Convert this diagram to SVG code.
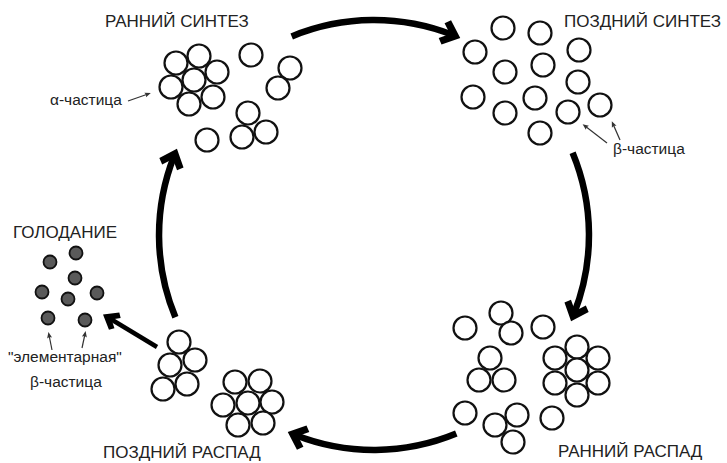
<svg xmlns="http://www.w3.org/2000/svg" width="727" height="463" viewBox="0 0 727 463">
  <style>
    .p { fill: #fff; stroke: #111; stroke-width: 2.2; }
    .d { fill: #5a5a5a; stroke: #111; stroke-width: 1.8; }
    .h { font-family: "Liberation Sans", Arial, sans-serif; font-size: 17px; fill: #222; }
    .s { font-family: "Liberation Sans", Arial, sans-serif; font-size: 15.5px; fill: #222; }
    .cyc { fill: none; stroke: #000; stroke-width: 6.5; }
    .thick { fill: none; stroke: #000; stroke-width: 4.5; }
    .thin { fill: none; stroke: #333; stroke-width: 1.2; }
  </style>
  <defs>
    <!-- thick chevron head for the cycle arrows -->
    <marker id="head" viewBox="-15 -15 30 30" markerWidth="30" markerHeight="30" refX="0" refY="0" orient="auto" markerUnits="userSpaceOnUse">
      <path d="M8,0 L-7,-13 L-12,-8 L-3,0 L-12,8 L-7,13 Z" fill="#000"/>
    </marker>
    <marker id="head-m" viewBox="-15 -15 30 30" markerWidth="30" markerHeight="30" refX="0" refY="0" orient="auto" markerUnits="userSpaceOnUse">
      <path d="M7,0 L-6,-10 L-10,-6 L-3,0 L-10,6 L-6,10 Z" fill="#000"/>
    </marker>
    <marker id="head-s" viewBox="-6 -6 12 12" markerWidth="12" markerHeight="12" refX="0" refY="0" orient="auto" markerUnits="userSpaceOnUse">
      <path d="M3,0 L-3,-2.5 L-2,0 L-3,2.5 Z" fill="#333"/>
    </marker>
  </defs>

  <rect width="727" height="463" fill="#fff"/>

  <!-- cycle arrows and pointers -->
  <g id="connectors">
    <path class="cyc" d="M291.7,36.4 A215,215 0 0 1 452.8,35.0" marker-end="url(#head)"/>
    <path class="cyc" d="M572.6,152.7 A215,215 0 0 1 574.0,313.8" marker-end="url(#head)"/>
    <path class="cyc" d="M456.3,433.6 A215,215 0 0 1 295.2,435.0" marker-end="url(#head)"/>
    <path class="cyc" d="M175.4,317.3 A215,215 0 0 1 174.0,156.2" marker-end="url(#head)"/>
    <path class="thick" d="M157,347 L109,318" marker-end="url(#head-m)"/>
    <path class="thin" d="M128,101 L148,94" marker-end="url(#head-s)"/>
    <path class="thin" d="M607,143 L585,126" marker-end="url(#head-s)"/>
    <path class="thin" d="M620,140 L613,124" marker-end="url(#head-s)"/>
    <path class="thin" d="M52,350 L49,335" marker-end="url(#head-s)"/>
    <path class="thin" d="M82,348 L85,334" marker-end="url(#head-s)"/>
  </g>

  <!-- early synthesis -->
  <g id="early-synthesis">
    <text class="h" x="105" y="27">РАННИЙ СИНТЕЗ</text>
    <text class="s" x="50" y="105">α-частица</text>
    <circle class="p" cx="176" cy="63" r="11.5"/>
    <circle class="p" cx="199" cy="56" r="11.5"/>
    <circle class="p" cx="217" cy="72" r="11.5"/>
    <circle class="p" cx="171" cy="87" r="11.5"/>
    <circle class="p" cx="189" cy="104" r="11.5"/>
    <circle class="p" cx="213" cy="97" r="11.5"/>
    <circle class="p" cx="194" cy="80" r="11.5"/>
    <circle class="p" cx="251" cy="55" r="11.5"/>
    <circle class="p" cx="290" cy="68" r="11.5"/>
    <circle class="p" cx="278" cy="88" r="11.5"/>
    <circle class="p" cx="248" cy="113" r="11.5"/>
    <circle class="p" cx="242" cy="137" r="11.5"/>
    <circle class="p" cx="266" cy="132" r="11.5"/>
    <circle class="p" cx="207" cy="140" r="11.5"/>
  </g>

  <!-- late synthesis -->
  <g id="late-synthesis">
    <text class="h" x="564" y="27">ПОЗДНИЙ СИНТЕЗ</text>
    <text class="s" x="613" y="154">β-частица</text>
    <circle class="p" cx="503" cy="28" r="11.5"/>
    <circle class="p" cx="540" cy="33" r="11.5"/>
    <circle class="p" cx="475" cy="52" r="11.5"/>
    <circle class="p" cx="579" cy="50" r="11.5"/>
    <circle class="p" cx="505" cy="72" r="11.5"/>
    <circle class="p" cx="543" cy="65" r="11.5"/>
    <circle class="p" cx="578" cy="82" r="11.5"/>
    <circle class="p" cx="473" cy="97" r="11.5"/>
    <circle class="p" cx="535" cy="98" r="11.5"/>
    <circle class="p" cx="568" cy="112" r="11.5"/>
    <circle class="p" cx="600" cy="105" r="11.5"/>
    <circle class="p" cx="505" cy="113" r="11.5"/>
    <circle class="p" cx="540" cy="133" r="11.5"/>
  </g>

  <!-- early decay -->
  <g id="early-decay">
    <text class="h" x="558" y="457">РАННИЙ РАСПАД</text>
    <circle class="p" cx="465" cy="328" r="11.5"/>
    <circle class="p" cx="501" cy="313" r="11.5"/>
    <circle class="p" cx="511" cy="333" r="11.5"/>
    <circle class="p" cx="543" cy="327" r="11.5"/>
    <circle class="p" cx="490" cy="358" r="11.5"/>
    <circle class="p" cx="479" cy="380" r="11.5"/>
    <circle class="p" cx="504" cy="380" r="11.5"/>
    <circle class="p" cx="577" cy="347" r="11.5"/>
    <circle class="p" cx="598" cy="358" r="11.5"/>
    <circle class="p" cx="598" cy="383" r="11.5"/>
    <circle class="p" cx="577" cy="395" r="11.5"/>
    <circle class="p" cx="555" cy="383" r="11.5"/>
    <circle class="p" cx="555" cy="358" r="11.5"/>
    <circle class="p" cx="577" cy="370" r="11.5"/>
    <circle class="p" cx="465" cy="413" r="11.5"/>
    <circle class="p" cx="495" cy="425" r="11.5"/>
    <circle class="p" cx="517" cy="415" r="11.5"/>
    <circle class="p" cx="513" cy="442" r="11.5"/>
    <circle class="p" cx="552" cy="418" r="11.5"/>
  </g>

  <!-- late decay -->
  <g id="late-decay">
    <text class="h" x="103" y="458">ПОЗДНИЙ РАСПАД</text>
    <circle class="p" cx="179" cy="342" r="11.5"/>
    <circle class="p" cx="170" cy="365" r="11.5"/>
    <circle class="p" cx="195" cy="360" r="11.5"/>
    <circle class="p" cx="163" cy="389" r="11.5"/>
    <circle class="p" cx="187" cy="384" r="11.5"/>
    <circle class="p" cx="235" cy="382" r="11.5"/>
    <circle class="p" cx="260" cy="381" r="11.5"/>
    <circle class="p" cx="272" cy="402" r="11.5"/>
    <circle class="p" cx="263" cy="423" r="11.5"/>
    <circle class="p" cx="238" cy="425" r="11.5"/>
    <circle class="p" cx="223" cy="405" r="11.5"/>
    <circle class="p" cx="248" cy="403" r="11.5"/>
  </g>

  <!-- starvation -->
  <g id="starvation">
    <text class="h" x="13" y="238">ГОЛОДАНИЕ</text>
    <circle class="d" cx="50" cy="262" r="6.5"/>
    <circle class="d" cx="76" cy="253" r="6.5"/>
    <circle class="d" cx="75" cy="278" r="6.5"/>
    <circle class="d" cx="42" cy="292" r="6.5"/>
    <circle class="d" cx="68" cy="299" r="6.5"/>
    <circle class="d" cx="97" cy="293" r="6.5"/>
    <circle class="d" cx="48" cy="318" r="6.5"/>
    <circle class="d" cx="85" cy="320" r="6.5"/>
    <text class="s" x="8" y="362">"элементарная"</text>
    <text class="s" x="30" y="387">β-частица</text>
  </g>
</svg>
